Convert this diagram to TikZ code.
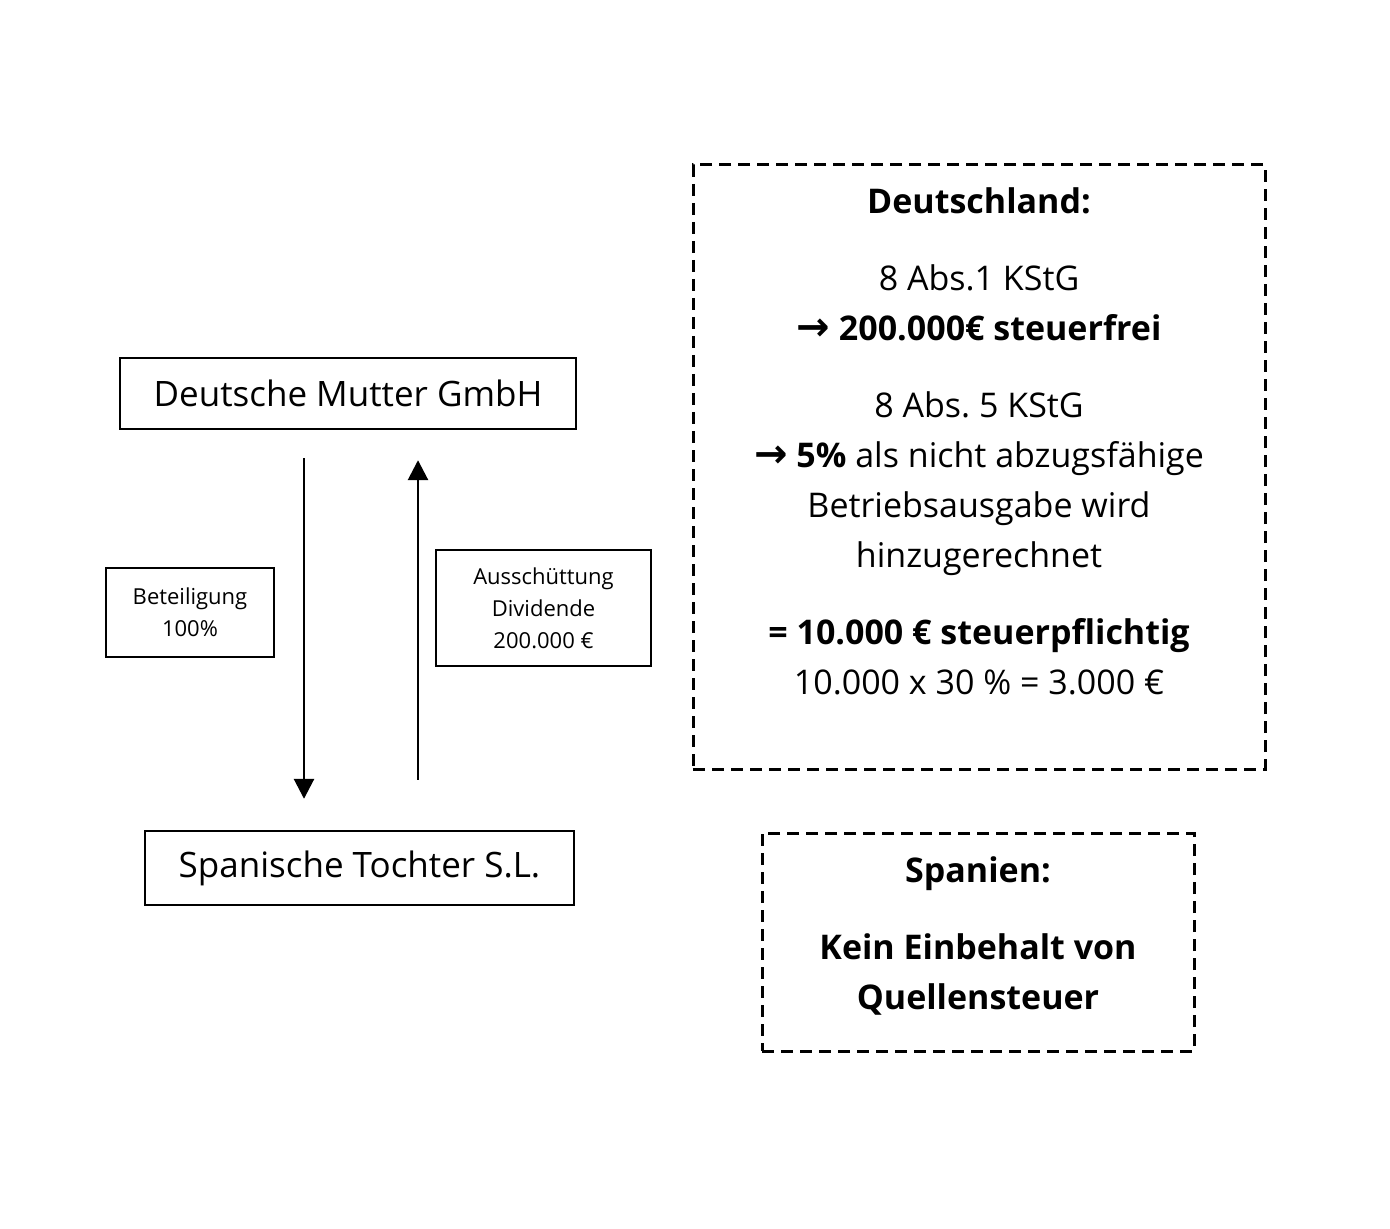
\documentclass[tikz,border=0pt]{standalone}
\usepackage{fontspec}
\setmainfont{Open Sans}
\newfontfamily\pfeilfont{DejaVu Sans}
\usetikzlibrary{arrows.meta}
\frenchspacing

\begin{document}
\begin{tikzpicture}[x=0.5pt,y=-0.5pt,
  kasten/.style={draw=drawColor,line width=1.2pt,inner sep=0pt},
  strichkasten/.style={draw=drawColor,line width=1.5pt,dash pattern=on 6pt off 3.5pt,inner sep=0pt},
  pfeil/.style={draw=drawColor,line width=1.4pt,-{Triangle[length=10pt,width=10pt]}},
  gross/.style={font=\fontsize{17.5}{20}\selectfont},
  klein/.style={font=\fontsize{11}{16}\selectfont,align=center},
  rechts/.style={font=\fontsize{17}{25}\selectfont,align=center,inner sep=0pt}]
\definecolor{fillColor}{RGB}{255,255,255}
\definecolor{drawColor}{RGB}{0,0,0}
\path[use as bounding box,fill=fillColor] (0,0) rectangle (1390,1229);

% Gesellschaften
\node[kasten,gross,minimum width=228pt,minimum height=35.5pt] (mutter) at (348,393.5) {Deutsche Mutter GmbH};
\node[kasten,gross,minimum width=214.5pt,minimum height=37pt] (tochter) at (359.5,868) {Spanische Tochter S.L.};

% Beteiligung und Ausschuettung
\node[kasten,klein,minimum width=84pt,minimum height=44.5pt] (beteiligung) at (190,612.5) {Beteiligung\\100\%};
\node[kasten,klein,minimum width=107.5pt,minimum height=58pt] (dividende) at (543.5,608) {Ausschüttung\\Dividende\\200.000 €};

\coordinate (ab) at (304,0);
\coordinate (auf) at (418,0);
\draw[pfeil,shorten <=14pt,shorten >=15.5pt] (mutter.south -| ab) -- (tochter.north -| ab);
\draw[pfeil,shorten <=25pt,shorten >=15pt] (tochter.north -| auf) -- (mutter.south -| auf);

% Deutschland
\node[strichkasten,minimum width=286pt,minimum height=302pt] (de) at (979,467) {};
\node[rechts,anchor=north] (detext) at (979,187) {%
  {\bfseries Deutschland:}\\[13.5pt]
  8 Abs.1 KStG\\
  {\pfeilfont\bfseries\fontsize{20}{25}\selectfont →} {\bfseries 200.000€ steuerfrei}\\[13.5pt]
  8 Abs. 5 KStG\\
  {\pfeilfont\bfseries\fontsize{20}{25}\selectfont →} {\bfseries 5\%} als nicht abzugsfähige\\
  Betriebsausgabe wird\\
  hinzugerechnet\\[13.5pt]
  {\bfseries = 10.000 € steuerpflichtig}\\
  10.000 x 30 \% = 3.000 €};

% Spanien
\node[strichkasten,minimum width=216pt,minimum height=109pt] (es) at (978,942) {};
\node[rechts,anchor=north,font=\fontsize{17}{25}\selectfont\bfseries] (estext) at (978,856) {%
  Spanien:\\[13.5pt]
  Kein Einbehalt von\\
  Quellensteuer};
\end{tikzpicture}
\end{document}
